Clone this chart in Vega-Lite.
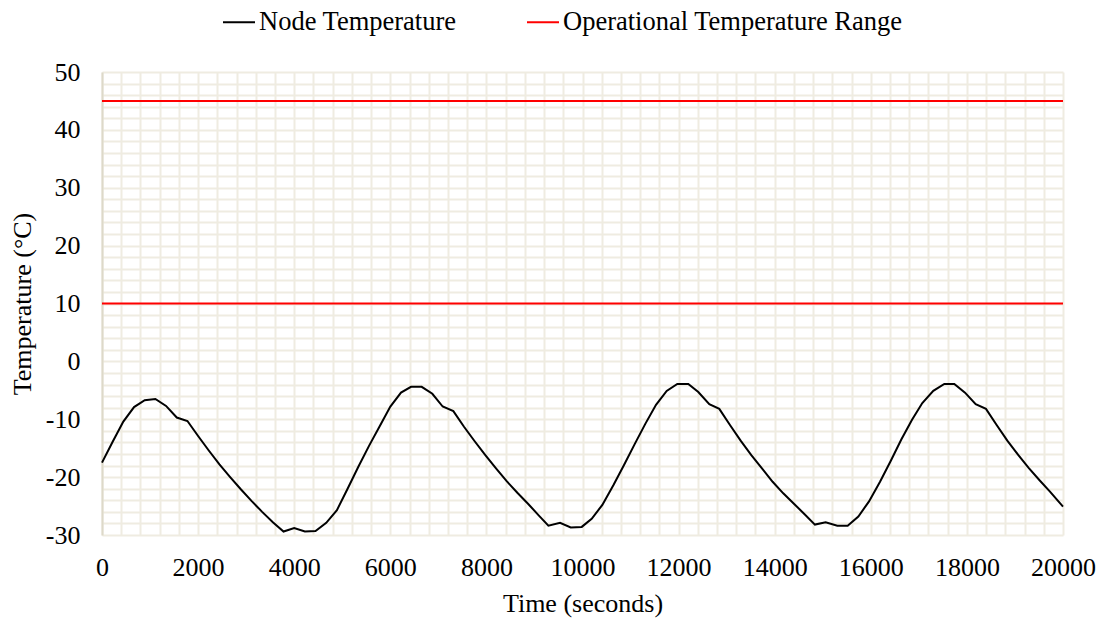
{
  "$schema": "https://vega.github.io/schema/vega-lite/v6.json",
  "autosize": {"type": "none"},
  "width": 961,
  "height": 463,
  "padding": {"left": 102, "top": 72, "right": 40, "bottom": 88},
  "background": "#FFFFFF",
  "config": {
    "font": "Liberation Serif",
    "view": {"stroke": null},
    "axis": {"labelFont": "Liberation Serif", "titleFont": "Liberation Serif", "labelColor": "#000000", "titleColor": "#000000", "titleFontWeight": "normal", "labelFontSize": 26, "titleFontSize": 26},
    "legend": {"labelFont": "Liberation Serif", "labelFontSize": 26.5, "labelColor": "#000000", "labelLimit": 0}
  },
  "datasets": {
    "node": [
      {"t": 0, "T": -17.5}, {"t": 222, "T": -13.9}, {"t": 444, "T": -10.4}, {"t": 667, "T": -7.9},
      {"t": 889, "T": -6.7}, {"t": 1111, "T": -6.5}, {"t": 1333, "T": -7.7}, {"t": 1556, "T": -9.7},
      {"t": 1778, "T": -10.3}, {"t": 2000, "T": -12.9}, {"t": 2222, "T": -15.4}, {"t": 2444, "T": -17.8},
      {"t": 2667, "T": -20.0}, {"t": 2889, "T": -22.1}, {"t": 3111, "T": -24.1}, {"t": 3333, "T": -26.0},
      {"t": 3556, "T": -27.8}, {"t": 3778, "T": -29.4}, {"t": 4000, "T": -28.8}, {"t": 4222, "T": -29.4},
      {"t": 4444, "T": -29.3}, {"t": 4667, "T": -27.9}, {"t": 4889, "T": -25.7}, {"t": 5111, "T": -22.0},
      {"t": 5335, "T": -18.2}, {"t": 5557, "T": -14.6}, {"t": 5779, "T": -11.2}, {"t": 6001, "T": -7.8},
      {"t": 6223, "T": -5.4}, {"t": 6431, "T": -4.4}, {"t": 6653, "T": -4.4}, {"t": 6875, "T": -5.6},
      {"t": 7090, "T": -7.8}, {"t": 7312, "T": -8.6}, {"t": 7534, "T": -11.3}, {"t": 7756, "T": -13.8},
      {"t": 7978, "T": -16.2}, {"t": 8200, "T": -18.5}, {"t": 8422, "T": -20.7}, {"t": 8644, "T": -22.7},
      {"t": 8866, "T": -24.6}, {"t": 9088, "T": -26.6}, {"t": 9290, "T": -28.4}, {"t": 9533, "T": -27.9},
      {"t": 9755, "T": -28.7}, {"t": 9984, "T": -28.6}, {"t": 10191, "T": -27.2}, {"t": 10413, "T": -24.8},
      {"t": 10642, "T": -21.4}, {"t": 10864, "T": -17.9}, {"t": 11086, "T": -14.3}, {"t": 11307, "T": -10.8},
      {"t": 11530, "T": -7.5}, {"t": 11752, "T": -5.1}, {"t": 11973, "T": -3.9}, {"t": 12202, "T": -3.9},
      {"t": 12410, "T": -5.3}, {"t": 12639, "T": -7.4}, {"t": 12847, "T": -8.2}, {"t": 13069, "T": -11.0},
      {"t": 13291, "T": -13.7}, {"t": 13513, "T": -16.2}, {"t": 13735, "T": -18.5}, {"t": 13957, "T": -20.8},
      {"t": 14178, "T": -22.8}, {"t": 14400, "T": -24.6}, {"t": 14622, "T": -26.4}, {"t": 14837, "T": -28.2},
      {"t": 15060, "T": -27.8}, {"t": 15303, "T": -28.4}, {"t": 15519, "T": -28.4}, {"t": 15741, "T": -26.8},
      {"t": 15963, "T": -24.2}, {"t": 16192, "T": -20.8}, {"t": 16414, "T": -17.2}, {"t": 16635, "T": -13.5},
      {"t": 16858, "T": -10.1}, {"t": 17072, "T": -7.2}, {"t": 17301, "T": -5.1}, {"t": 17530, "T": -3.9},
      {"t": 17738, "T": -3.9}, {"t": 17961, "T": -5.4}, {"t": 18183, "T": -7.4}, {"t": 18397, "T": -8.2},
      {"t": 18619, "T": -11.0}, {"t": 18841, "T": -13.7}, {"t": 19063, "T": -16.1}, {"t": 19285, "T": -18.4},
      {"t": 19507, "T": -20.5}, {"t": 19729, "T": -22.5}, {"t": 20000, "T": -25.1}
    ],
    "range": [{"limit": 10}, {"limit": 45}]
  },
  "encoding": {
    "x": {
      "type": "quantitative",
      "scale": {"domain": [0, 20000], "nice": false, "zero": false},
      "axis": {
        "title": "Time (seconds)",
        "values": [0,400,800,1200,1600,2000,2400,2800,3200,3600,4000,4400,4800,5200,5600,6000,6400,6800,7200,7600,8000,8400,8800,9200,9600,10000,10400,10800,11200,11600,12000,12400,12800,13200,13600,14000,14400,14800,15200,15600,16000,16400,16800,17200,17600,18000,18400,18800,19200,19600,20000],
        "labelExpr": "datum.value % 2000 === 0 ? '' + datum.value : ''",
        "grid": true, "gridColor": "#EFECE1", "gridWidth": 2,
        "ticks": false, "domain": false,
        "labelPadding": 19, "titlePadding": 10, "labelFlush": false
      }
    },
    "y": {
      "type": "quantitative",
      "scale": {"domain": [-30, 50], "nice": false, "zero": false},
      "axis": {
        "title": "Temperature (°C)",
        "values": [-30,-28,-26,-24,-22,-20,-18,-16,-14,-12,-10,-8,-6,-4,-2,0,2,4,6,8,10,12,14,16,18,20,22,24,26,28,30,32,34,36,38,40,42,44,46,48,50],
        "labelExpr": "datum.value % 10 === 0 ? '' + datum.value : ''",
        "grid": true, "gridColor": "#EFECE1", "gridWidth": 2,
        "ticks": false, "domain": true, "domainColor": "#DDD9C9", "domainWidth": 2,
        "labelPadding": 22, "titlePadding": 10
      }
    }
  },
  "layer": [
    {
      "mark": {"type": "rule", "color": "#DDD9C9", "strokeWidth": 2},
      "encoding": {"y": {"datum": 0}}
    },
    {
      "data": {"name": "range"},
      "mark": {"type": "rule", "strokeWidth": 2},
      "encoding": {
        "y": {"field": "limit"},
        "color": {"datum": "Operational Temperature Range"}
      }
    },
    {
      "data": {"name": "node"},
      "mark": {"type": "line", "strokeWidth": 2},
      "encoding": {
        "x": {"field": "t"},
        "y": {"field": "T"},
        "color": {
          "datum": "Node Temperature",
          "scale": {"domain": ["Node Temperature", "Operational Temperature Range"], "range": ["#000000", "#FF0000"]},
          "legend": {
            "title": null,
            "orient": "none",
            "direction": "horizontal",
            "legendX": 120,
            "legendY": -67,
            "symbolType": "stroke",
            "symbolSize": 1024,
            "symbolStrokeWidth": 2,
            "labelOffset": 3,
            "labelLimit": 0,
            "columnPadding": 66,
            "padding": 0
          }
        }
      }
    }
  ]
}
